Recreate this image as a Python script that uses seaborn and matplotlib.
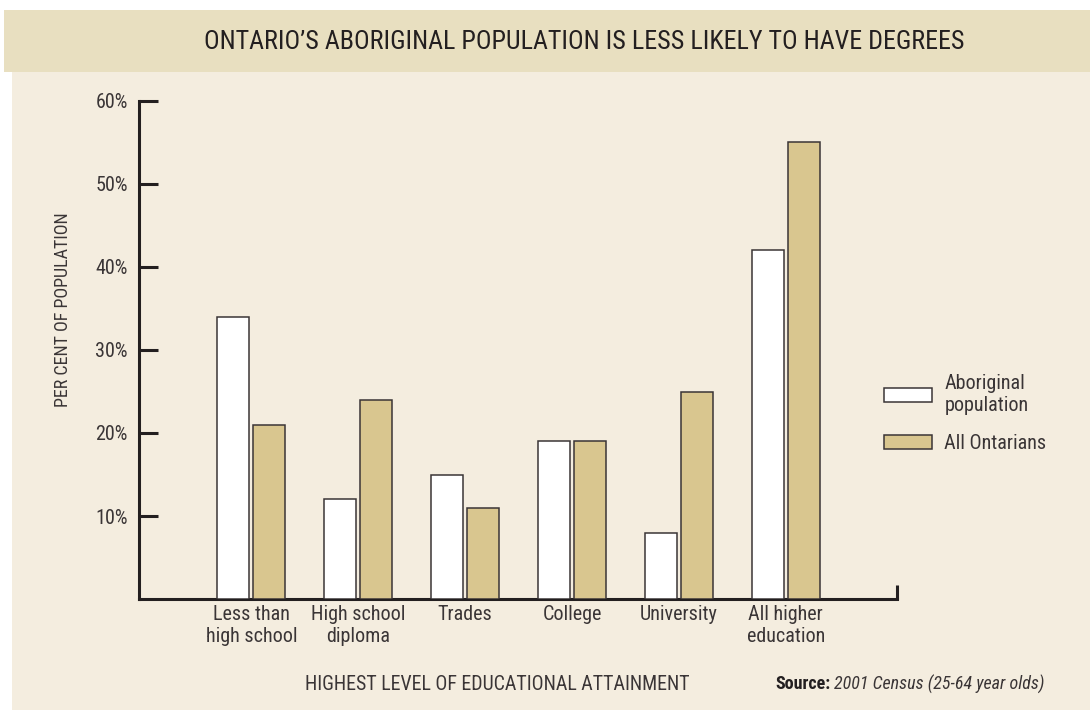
import pandas as pd
import matplotlib
matplotlib.use('Agg')
import matplotlib.pyplot as plt
from matplotlib import font_manager
from matplotlib.patches import Rectangle
import seaborn as sns

# ── Data ─────────────────────────────────────────────────────────────────
categories = ['Less than\nhigh school', 'High school\ndiploma', 'Trades',
              'College', 'University', 'All higher\neducation']
aboriginal = [34, 12, 15, 19, 8, 42]
all_ontarians = [21, 24, 11, 19, 25, 55]
series_names = ['Aboriginal\npopulation', 'All Ontarians']
y_ticks = [10, 20, 30, 40, 50, 60]

df = pd.DataFrame({
    'category': categories * 2,
    'value': aboriginal + all_ontarians,
    'group': [series_names[0]] * len(categories) + [series_names[1]] * len(categories),
})

# ── Style ────────────────────────────────────────────────────────────────
sns.set_style('white')
installed = {f.name for f in font_manager.fontManager.ttflist}
narrow = [n for n in ['Liberation Sans Narrow', 'Roboto Condensed', 'DejaVu Sans Condensed',
                      'Open Sans Condensed', 'Noto Sans Condensed'] if n in installed]
FONT = narrow[:1] + ['DejaVu Sans']
plt.rcParams['font.family'] = FONT
INK = '#231f20'
GREY = '#3a3536'
TAN = '#d9c68f'
HEADER_BG = '#e8dfc0'
BODY_BG = '#f4eddf'

W, H = 1090, 710
fig = plt.figure(figsize=(W / 100, H / 100), dpi=100)
fig.patch.set_facecolor('white')

# background panels
fig.patches.append(Rectangle((4 / W, 1 - 72 / H), 1, 62 / H, transform=fig.transFigure,
                             facecolor=HEADER_BG, edgecolor='none', zorder=-10))
fig.patches.append(Rectangle((12 / W, 0), 1, 1 - 72 / H, transform=fig.transFigure,
                             facecolor=BODY_BG, edgecolor='none', zorder=-10))

ax = fig.add_axes([139 / W, 1 - 599 / H, (897 - 139) / W, (599 - 101) / H])
ax.set_facecolor('none')

sns.barplot(data=df, x='category', y='value', hue='group', order=categories,
            hue_order=series_names, palette=['white', TAN], saturation=1,
            width=0.674, gap=0.11, edgecolor=GREY, linewidth=1.1,
            errorbar=None, ax=ax, zorder=3)

ax.set_xlim(-1.05, 6.04)
ax.set_ylim(0, 60)
ax.set_yticks(y_ticks)
ax.set_yticklabels([f'{v}%' for v in y_ticks])
ax.set_xlabel('')
ax.set_ylabel('')

for s in ['top', 'right']:
    ax.spines[s].set_visible(False)
for s in ['left', 'bottom']:
    ax.spines[s].set_color(INK)
    ax.spines[s].set_linewidth(2.2)

ax.tick_params(axis='y', left=True, direction='in', length=13.5, width=2.2, color=INK,
               labelsize=14.5, labelcolor=GREY, pad=8)
ax.tick_params(axis='x', bottom=False, length=0, labelsize=14.5, labelcolor=GREY, pad=4)
for lbl in ax.get_xticklabels():
    lbl.set_linespacing(1.22)

# small upward tick at the right end of the x axis
ax.plot([1, 1], [0, 0.028], transform=ax.transAxes, color=INK, lw=2.2,
        clip_on=False, solid_capstyle='butt')

# legend
handles, labels = ax.get_legend_handles_labels()
leg = ax.legend(handles, labels, loc='upper left', bbox_to_anchor=(884 / W, 1 - 374 / H),
                bbox_transform=fig.transFigure, frameon=False, fontsize=14.5,
                handlelength=2.4, handleheight=0.7, handletextpad=0.6,
                labelspacing=0.95, borderpad=0, borderaxespad=0, labelcolor=GREY)
for t in leg.get_texts():
    t.set_linespacing(1.2)

# titles and notes
fig.text(584 / W, 1 - 42 / H, 'ONTARIO’S ABORIGINAL POPULATION IS LESS LIKELY TO HAVE DEGREES',
         ha='center', va='center', fontsize=18.7 if narrow else 15, color=INK)
fig.text(63 / W, 1 - 310 / H, 'PER CENT OF POPULATION', rotation=90,
         ha='center', va='center', fontsize=13, color=GREY)
fig.text(497 / W, 1 - 684 / H, 'HIGHEST LEVEL OF EDUCATIONAL ATTAINMENT',
         ha='center', va='center', fontsize=14.3, color=GREY)
src = fig.text(775 / W, 1 - 684 / H, 'Source:', ha='left', va='center',
               fontsize=13, fontweight='bold', color=INK)
ax.annotate('2001 Census (25-64 year olds)', xy=(1, 0.5), xycoords=src,
            xytext=(3, 0), textcoords='offset points', ha='left', va='center',
            fontsize=13, fontstyle='italic', color=GREY, annotation_clip=False)

fig.savefig('out.png', dpi=100, facecolor=fig.get_facecolor())
